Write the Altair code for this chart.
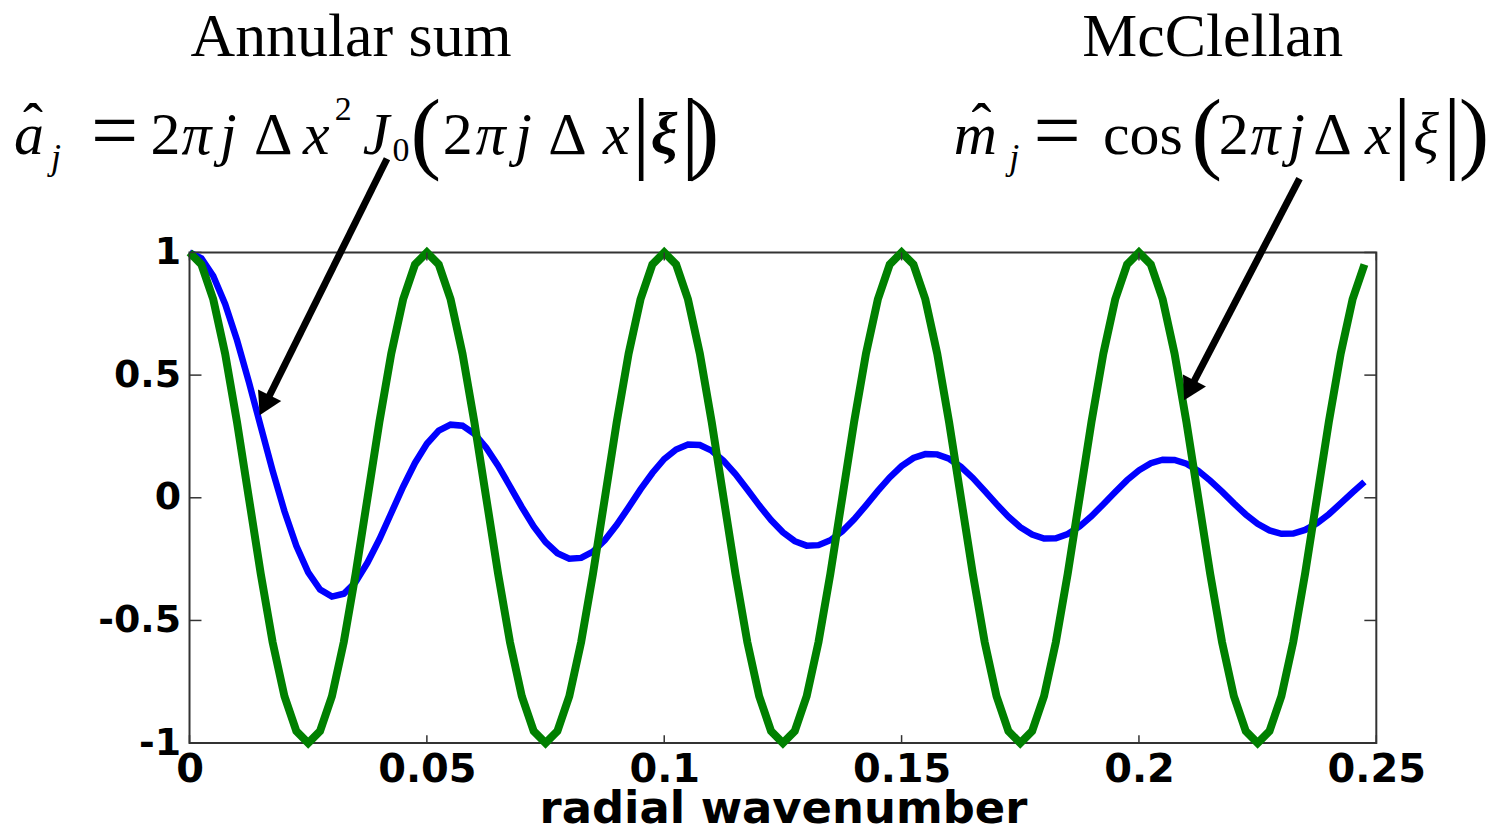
import math
import altair as alt
import pandas as pd

# ---------------- data ----------------
wavenumber = [
    0.0, 0.0025, 0.005, 0.0075, 0.01, 0.0125, 0.015, 0.0175, 0.02, 0.0225,
    0.025, 0.0275, 0.03, 0.0325, 0.035, 0.0375, 0.04, 0.0425, 0.045, 0.0475,
    0.05, 0.0525, 0.055, 0.0575, 0.06, 0.0625, 0.065, 0.0675, 0.07, 0.0725,
    0.075, 0.0775, 0.08, 0.0825, 0.085, 0.0875, 0.09, 0.0925, 0.095, 0.0975,
    0.1, 0.1025, 0.105, 0.1075, 0.11, 0.1125, 0.115, 0.1175, 0.12, 0.1225,
    0.125, 0.1275, 0.13, 0.1325, 0.135, 0.1375, 0.14, 0.1425, 0.145, 0.1475,
    0.15, 0.1525, 0.155, 0.1575, 0.16, 0.1625, 0.165, 0.1675, 0.17, 0.1725,
    0.175, 0.1775, 0.18, 0.1825, 0.185, 0.1875, 0.19, 0.1925, 0.195, 0.1975,
    0.2, 0.2025, 0.205, 0.2075, 0.21, 0.2125, 0.215, 0.2175, 0.22, 0.2225,
    0.225, 0.2275, 0.23, 0.2325, 0.235, 0.2375, 0.24, 0.2425, 0.245, 0.2475,
]

annular_sum = [
    1.000, 0.976, 0.904, 0.790, 0.643, 0.472, 0.291, 0.111, -0.055, -0.196,
    -0.304, -0.374, -0.403, -0.391, -0.343, -0.264, -0.169, -0.062, 0.045, 0.142,
    0.220, 0.274, 0.298, 0.294, 0.261, 0.204, 0.131, 0.047, -0.038, -0.117,
    -0.181, -0.226, -0.248, -0.245, -0.219, -0.172, -0.110, -0.039, 0.034, 0.101,
    0.158, 0.197, 0.217, 0.215, 0.192, 0.151, 0.097, 0.034, -0.031, -0.091,
    -0.141, -0.177, -0.195, -0.193, -0.173, -0.137, -0.088, -0.031, 0.028, 0.083,
    0.129, 0.162, 0.178, 0.177, 0.159, 0.126, 0.081, 0.028, -0.026, -0.077,
    -0.120, -0.150, -0.166, -0.165, -0.148, -0.117, -0.075, -0.026, 0.024, 0.072,
    0.112, 0.141, 0.155, 0.154, 0.139, 0.110, 0.070, 0.025, -0.023, -0.068,
    -0.106, -0.133, -0.147, -0.146, -0.131, -0.104, -0.067, -0.023, 0.022, 0.065,
]

mcclellan = [
    1.000, 0.951, 0.809, 0.588, 0.309, 0.000, -0.309, -0.588, -0.809, -0.951,
    -1.000, -0.951, -0.809, -0.588, -0.309, 0.000, 0.309, 0.588, 0.809, 0.951,
    1.000, 0.951, 0.809, 0.588, 0.309, 0.000, -0.309, -0.588, -0.809, -0.951,
    -1.000, -0.951, -0.809, -0.588, -0.309, 0.000, 0.309, 0.588, 0.809, 0.951,
    1.000, 0.951, 0.809, 0.588, 0.309, 0.000, -0.309, -0.588, -0.809, -0.951,
    -1.000, -0.951, -0.809, -0.588, -0.309, 0.000, 0.309, 0.588, 0.809, 0.951,
    1.000, 0.951, 0.809, 0.588, 0.309, 0.000, -0.309, -0.588, -0.809, -0.951,
    -1.000, -0.951, -0.809, -0.588, -0.309, 0.000, 0.309, 0.588, 0.809, 0.951,
    1.000, 0.951, 0.809, 0.588, 0.309, 0.000, -0.309, -0.588, -0.809, -0.951,
    -1.000, -0.951, -0.809, -0.588, -0.309, 0.000, 0.309, 0.588, 0.809, 0.951,
]

x_tick_values = [0, 0.05, 0.1, 0.15, 0.2, 0.25]
y_tick_values = [-1, -0.5, 0, 0.5, 1]

x_title = "radial wavenumber"

# header texts and formula pieces: (text, centre x on page, baseline y on page, style)
header_pieces = [
    ("Annular sum", 352, 55, "hdr"),
    ("McClellan", 1216, 55, "hdr"),
    # annular-sum formula
    ("a", 29, 153, "it"), ("ˆ", 33, 143, "up"), ("j", 56, 168, "sub"),
    ("=", 115, 158, "eq"),
    ("2", 166, 153, "up"), ("π", 197, 153, "it"), ("j", 229, 153, "it"),
    ("Δ", 274, 153, "up"), ("x", 317, 153, "it"), ("2", 344, 119, "small"),
    ("J", 377, 153, "it"), ("0", 402, 160, "small"),
    ("(", 427, 161, "par"),
    ("2", 459, 153, "up"), ("π", 492, 153, "it"), ("j", 525, 153, "it"),
    ("Δ", 569, 153, "up"), ("x", 618, 153, "it"),
    ("|", 643, 161, "par"), ("ξ", 666, 153, "bxi"), ("|", 692, 161, "par"),
    (")", 706, 161, "par"),
    # McClellan formula
    ("m", 978, 153, "it"), ("ˆ", 984, 143, "up"), ("j", 1017, 168, "sub"),
    ("=", 1060, 158, "eq"),
    ("cos", 1146, 153, "up"),
    ("(", 1210, 161, "par"),
    ("2", 1237, 153, "up"), ("π", 1269, 153, "it"), ("j", 1300, 153, "it"),
    ("Δ", 1336, 153, "up"), ("x", 1382, 153, "it"),
    ("|", 1406, 161, "par"), ("ξ", 1430, 153, "it"), ("|", 1456, 161, "par"),
    (")", 1478, 161, "par"),
]

# arrows: (start x, start y, tip x, tip y) on the page
arrow_pieces = [
    (388, 158, 262, 412),
    (1303, 178, 1189, 397),
]

# ---------------- layout ----------------
W, H = 1190, 492
PAD_L, PAD_T = 182, 244
X_DOM = [0, 0.25]
Y_DOM = [-1, 1]


def to_data(px, py):
    xd = (px - 8 - PAD_L) / W * (X_DOM[1] - X_DOM[0]) + X_DOM[0]
    yd = Y_DOM[1] - (py - 8 - PAD_T) / H * (Y_DOM[1] - Y_DOM[0])
    return xd, yd


xscale = alt.Scale(domain=X_DOM, nice=False, zero=False)
yscale = alt.Scale(domain=Y_DOM, nice=False, zero=False)

lines_df = pd.DataFrame({"x": wavenumber, "a": annular_sum, "m": mcclellan})

x_axis = alt.Axis(
    values=x_tick_values, labelExpr="toString(datum.value)", labelFlush=False,
    labelFontSize=40, labelPadding=6, titleFontSize=45, titlePadding=-2,
    labelOverlap=False, grid=False, domain=False, ticks=False, tickSize=0,
    labelFont="DejaVu Sans", labelFontWeight="bold", labelColor="black",
    titleFont="DejaVu Sans", titleFontWeight="bold", titleColor="black",
)
y_axis = alt.Axis(
    values=y_tick_values, labelExpr="toString(datum.value)", labelFlush=False,
    labelFontSize=38, labelPadding=9, labelOverlap=False,
    grid=False, domain=False, ticks=False, tickSize=0,
    labelFont="DejaVu Sans", labelFontWeight="bold", labelColor="black",
)

blue = alt.Chart(lines_df).mark_line(color="#0000ff", strokeWidth=6.5).encode(
    x=alt.X("x:Q", scale=xscale, axis=x_axis, title=x_title),
    y=alt.Y("a:Q", scale=yscale, axis=y_axis, title=""),
)
green = alt.Chart(lines_df).mark_line(color="#008000", strokeWidth=8).encode(
    x=alt.X("x:Q", scale=xscale),
    y=alt.Y("m:Q", scale=yscale),
)

# inward tick marks
ytick_df = pd.DataFrame({"a": y_tick_values})
xtick_df = pd.DataFrame({"x": x_tick_values})
tick_col = "#333333"
left_ticks = alt.Chart(ytick_df).mark_rule(color=tick_col, strokeWidth=1.5).encode(
    y=alt.Y("a:Q", scale=yscale), x=alt.value(0), x2=alt.value(12))
right_ticks = alt.Chart(ytick_df).mark_rule(color=tick_col, strokeWidth=1.5).encode(
    y=alt.Y("a:Q", scale=yscale), x=alt.value(W - 12), x2=alt.value(W))
bottom_ticks = alt.Chart(xtick_df).mark_rule(color=tick_col, strokeWidth=1.5).encode(
    x=alt.X("x:Q", scale=xscale), y=alt.value(H - 8), y2=alt.value(H))
top_ticks = alt.Chart(xtick_df).mark_rule(color=tick_col, strokeWidth=1.5).encode(
    x=alt.X("x:Q", scale=xscale), y=alt.value(0), y2=alt.value(8))

# arrows
HEAD = 26.0  # triangle base in px
rows_shaft, rows_head = [], []
for sx, sy, tx, ty in arrow_pieces:
    dx, dy = tx - sx, ty - sy
    L = math.hypot(dx, dy)
    ux, uy = dx / L, dy / L
    h = HEAD * math.sqrt(3) / 2
    cx, cy = tx - ux * h / 2, ty - uy * h / 2
    x0, y0 = to_data(sx, sy)
    x1, y1 = to_data(cx, cy)
    rows_shaft.append({"x": x0, "a": y0, "x2": x1, "a2": y1})
    ang = math.degrees(math.atan2(dx, -dy)) % 360
    rows_head.append({"x": x1, "a": y1, "ang": ang})

shafts = alt.Chart(pd.DataFrame(rows_shaft)).mark_rule(color="black", strokeWidth=7).encode(
    x=alt.X("x:Q", scale=xscale), y=alt.Y("a:Q", scale=yscale),
    x2="x2:Q", y2="a2:Q")
heads = alt.Chart(pd.DataFrame(rows_head)).mark_point(
    shape="triangle", filled=True, color="black", opacity=1, size=HEAD * HEAD, strokeWidth=0
).encode(
    x=alt.X("x:Q", scale=xscale), y=alt.Y("a:Q", scale=yscale),
    angle=alt.Angle("ang:Q", scale=None))

# header text
styles = {
    "hdr": dict(fontSize=62, fontStyle="normal", fontWeight="normal"),
    "up": dict(fontSize=60, fontStyle="normal", fontWeight="normal"),
    "it": dict(fontSize=60, fontStyle="italic", fontWeight="normal"),
    "bxi": dict(fontSize=60, fontStyle="italic", fontWeight="bold"),
    "sub": dict(fontSize=36, fontStyle="italic", fontWeight="normal"),
    "small": dict(fontSize=34, fontStyle="normal", fontWeight="normal"),
    "eq": dict(fontSize=84, fontStyle="normal", fontWeight="normal"),
    "par": dict(fontSize=92, fontStyle="normal", fontWeight="normal"),
}
text_rows = []
for t, px, py, st in header_pieces:
    xd, yd = to_data(px, py)
    text_rows.append({"t": t, "x": xd, "a": yd, "st": st})
text_df = pd.DataFrame(text_rows)

text_layers = []
for st, kw in styles.items():
    sub = text_df[text_df["st"] == st]
    text_layers.append(
        alt.Chart(sub).mark_text(
            font="Liberation Serif", color="black", align="center",
            baseline="alphabetic", **kw
        ).encode(
            x=alt.X("x:Q", scale=xscale), y=alt.Y("a:Q", scale=yscale), text="t:N")
    )

chart = alt.layer(
    blue, green, left_ticks, right_ticks, bottom_ticks, top_ticks,
    shafts, heads, *text_layers
).properties(
    width=W, height=H,
    background="white",
    autosize=alt.AutoSizeParams(type="none"),
    padding={"left": PAD_L, "top": PAD_T, "right": 115, "bottom": 82},
).configure_view(
    stroke="#333333", strokeWidth=2
).configure_axis(
    grid=False, domain=False, ticks=False, tickSize=0,
    labelFont="DejaVu Sans", labelFontWeight="bold", labelColor="black",
    titleFont="DejaVu Sans", titleFontWeight="bold", titleColor="black",
)

chart.save("out.html", embed_options={"renderer": "svg", "actions": False})
